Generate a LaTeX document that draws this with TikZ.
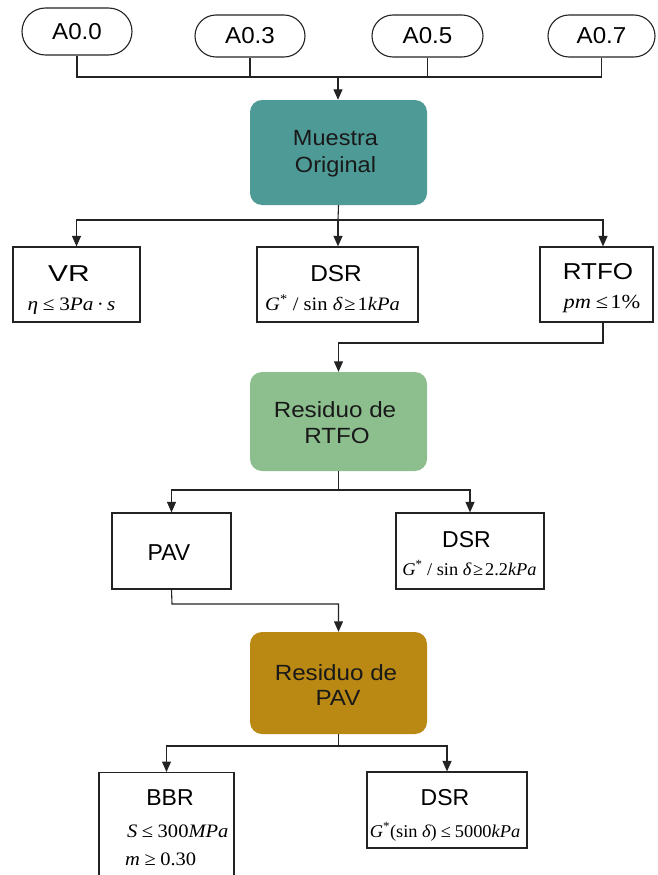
\documentclass[tikz,border=0pt]{standalone}
\usepackage{fontspec}
\usepackage{graphicx}
\setmainfont{Liberation Sans}
\newfontfamily\tm{Liberation Serif}
\usetikzlibrary{arrows.meta,shapes.misc}
\definecolor{cteal}{RGB}{78,154,150}
\definecolor{cgreen}{RGB}{141,190,142}
\definecolor{cgold}{RGB}{186,137,20}
\definecolor{cline}{RGB}{35,35,35}
\newcommand{\mf}[1]{\tm\fontsize{#1}{#1}\selectfont}
\newcommand{\sx}[2]{\scalebox{#1}[1]{#2}}
\newcommand{\rs}{\hspace{.22em}}
\begin{document}
\begin{tikzpicture}[x=1pt,y=-1pt,
  pill/.style={draw=cline,line width=1.1pt,rounded rectangle,inner sep=0pt,font=\fontsize{23}{24}\selectfont},
  testbox/.style={draw=cline,line width=1.2pt,rectangle,inner sep=0pt},
  colbox/.style={rectangle,rounded corners=12pt,inner sep=0pt},
  hd/.style={anchor=base,inner sep=0pt,font=\fontsize{23}{23}\selectfont},
  ch/.style={anchor=base,inner sep=0pt,text=black!90,font=\fontsize{22}{22}\selectfont},
  mt/.style={anchor=base,inner sep=0pt},
  conn/.style={draw=cline,line width=1.1pt},
  arr/.style={conn,-{Triangle[length=10.5pt,width=9pt]}}]
\useasboundingbox (0,0) rectangle (658,875);
% top pills
\node[pill,minimum width=110pt,minimum height=47pt] (a00) at (77,31.5) {\sx{1.05}{A0.0}};
\node[pill,minimum width=110pt,minimum height=42pt] (a03) at (250,36) {\sx{1.05}{A0.3}};
\node[pill,minimum width=111pt,minimum height=42pt] (a05) at (427.5,36) {\sx{1.05}{A0.5}};
\node[pill,minimum width=107pt,minimum height=42pt] (a07) at (601.5,36) {\sx{1.05}{A0.7}};
% Muestra
\node[colbox,fill=cteal,minimum width=177pt,minimum height=105pt] (mo) at (338.5,152.5) {};
\node[ch] (mo1) at (335.5,145) {\sx{1.07}{Muestra}};
\node[ch] (mo2) at (335.5,172) {\sx{1.07}{Original}};
\coordinate (b1) at (338,77);
\draw[conn] (a00.south) -- (a00.south |- b1) -- (a07.south |- b1) -- (a07.south);
\draw[conn] (a03.south) -- (a03.south |- b1);
\draw[conn] (a05.south) -- (a05.south |- b1);
\draw[arr] (b1) -- (b1 |- mo.north);
% level 2
\node[testbox,minimum width=127pt,minimum height=75pt] (vr) at (76.5,284.5) {};
\node[hd] (vrh) at (69,281) {\sx{1.3}{VR}};
\node[mt] (vrm) at (71.5,310) {\mf{19}\sx{1.12}{\itshape η\upshape\rs≤\rs3\itshape Pa\upshape\hspace{.15em}·\hspace{.15em}\itshape s}};
\node[testbox,minimum width=161pt,minimum height=75pt] (dsr1) at (337.5,284.5) {};
\node[hd] (dsr1h) at (336,281) {\sx{1.06}{DSR}};
\node[mt] (dsr1m) at (332.5,310) {\mf{19}\sx{1.08}{\itshape G\upshape\textsuperscript{*} / sin \itshape δ\upshape\hspace{.1em}≥\hspace{.1em}1\itshape kPa}};
\node[testbox,minimum width=113pt,minimum height=75pt] (rtfo) at (596.5,284.5) {};
\node[hd] (rtfoh) at (598,279) {\sx{1.13}{RTFO}};
\node[mt] (rtfom) at (602,308) {\mf{20}\sx{1.12}{\itshape pm\upshape\rs≤\hspace{.1em}1\%}};
\coordinate (b2) at (338,220);
\coordinate (rt) at (603,220);
\draw[conn] (mo.south) -- (b2);
\draw[arr] (b2) -- (b2 -| vr.north) -- (vr.north);
\draw[arr] (b2) -- (rt) -- (rt |- rtfo.north);
\draw[arr] (b2) -- (b2 |- dsr1.north);
% Residuo RTFO
\node[colbox,fill=cgreen,minimum width=177pt,minimum height=99pt] (rr) at (338.5,421.5) {};
\node[ch] (rr1) at (335,417) {\sx{1.1}{Residuo de}};
\node[ch] (rr2) at (337,443) {\sx{1.1}{RTFO}};
\coordinate (c1) at (603,343);
\draw[arr] (rt |- rtfo.south) -- (c1) -- (c1 -| rr.north) -- (rr.north);
% level 4
\node[testbox,minimum width=119pt,minimum height=76pt] (pav) at (171.5,551) {};
\node[hd] (pavh) at (169,560) {PAV};
\node[testbox,minimum width=148pt,minimum height=76pt] (dsr2) at (470,551) {};
\node[hd] (dsr2h) at (466.5,547) {DSR};
\node[mt] (dsr2m) at (469.5,575) {\mf{18}\sx{1.02}{\itshape G\upshape\textsuperscript{*} / sin \itshape δ\upshape\hspace{.1em}≥\hspace{.1em}2.2\itshape kPa}};
\coordinate (b3) at (338.5,490);
\draw[conn] (rr.south) -- (b3);
\draw[arr] (b3) -- (b3 -| pav.north) -- (pav.north);
\draw[arr] (b3) -- (b3 -| dsr2.north) -- (dsr2.north);
% Residuo PAV
\node[colbox,fill=cgold,minimum width=177pt,minimum height=102pt] (rp) at (338.5,683) {};
\node[ch] (rp1) at (336,680) {\sx{1.1}{Residuo de}};
\node[ch] (rp2) at (338,705) {\sx{1.1}{PAV}};
\coordinate (c2) at (172,604);
\draw[arr] (pav.south) -- (c2) -- (c2 -| rp.north) -- (rp.north);
% level 6
\node[testbox,minimum width=135pt,minimum height=150pt,anchor=north] (bbr) at (166.5,772) {};
\node[hd] (bbrh) at (170,805) {BBR};
\node[mt,anchor=base west] (bbr1) at (127,837) {\mf{19}\sx{1.08}{\itshape S\upshape\rs≤\rs300\itshape MPa}};
\node[mt,anchor=base west] (bbr2) at (125,865) {\mf{19}\sx{1.08}{\itshape m\upshape\rs≥\rs0.30}};
\node[testbox,minimum width=160pt,minimum height=76pt] (dsr3) at (447,810) {};
\node[hd] (dsr3h) at (445,805) {DSR};
\node[mt] (dsr3m) at (445,837) {\mf{18}\sx{1.02}{\itshape G\upshape\textsuperscript{*}(sin \itshape δ\upshape)\rs≤\rs5000\itshape kPa}};
\coordinate (b4) at (338.5,746);
\draw[conn] (rp.south) -- (b4);
\draw[arr] (b4) -- (b4 -| bbr.north) -- (bbr.north);
\draw[arr] (b4) -- (b4 -| dsr3.north) -- (dsr3.north);
\end{tikzpicture}
\end{document}
